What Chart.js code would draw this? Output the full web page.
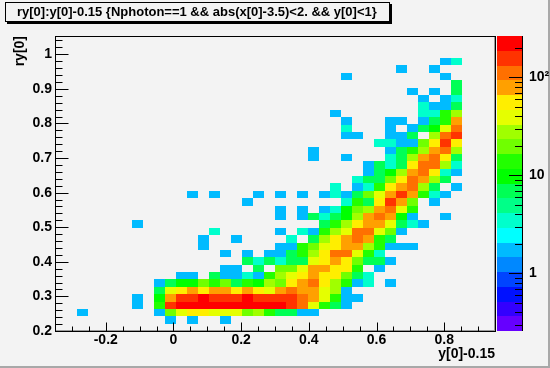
<!DOCTYPE html>
<html>
<head>
<meta charset="utf-8">
<title>ry[0]:y[0]-0.15</title>
<script src="https://cdn.jsdelivr.net/npm/chart.js@4/dist/chart.umd.js"></script>
<style>
    html, body {margin: 0; padding: 0; background: #f3f3f3;}
    canvas {display: block;}
</style>
</head>
<body>
<canvas id="plot" width="550" height="368"></canvas>
<script>
const titleText = 'ry[0]:y[0]-0.15 {Nphoton==1 && abs(x[0]-3.5)<2. && y[0]<1}';
const xTitle = 'y[0]-0.15';
const yTitle = 'ry[0]';

// binning of the histogram
const xRange = [-0.35, 0.95];
const yRange = [0.2, 1.053];
const zRange = [0.258, 265];
const nBinsX = 40;
const nBinsY = 40;

const xTicks = [-0.2, 0, 0.2, 0.4, 0.6, 0.8];
const yTicks = [0.2, 0.3, 0.4, 0.5, 0.6, 0.7, 0.8, 0.9, 1];
const zTicks = [1, 10, 100];
const zTickLabels = ['1', '10', '10²'];
const zMinorTicks = [0.3, 0.4, 0.5, 0.6, 0.7, 0.8, 0.9, 2, 3, 4, 5, 6, 7, 8, 9, 20, 30, 40, 50, 60, 70, 80, 90, 200];

// colour bar, bottom to top
const palette = [
    '#6600ff', '#3300ff', '#0011ff', '#0044ff', '#0088ff',
    '#00bbff', '#00ffff', '#00ffcc', '#00ff88', '#00ff55',
    '#00ff00', '#22ff00', '#70ff00', '#a0ff00', '#e5ff00',
    '#ffee00', '#ffa000', '#ff7000', '#ff3300', '#ff0000',
];

// bin contents: [column, value, column, value, ...], one list per row from the bottom
const row01 = [10, 1.7, 12, 1.7, 15, 1.7];
const row02 = [2, 1.7, 9, 1.7, 10, 20, 11, 39, 12, 55, 13, 55, 14, 39, 15, 39, 16, 39, 17, 20, 18, 28, 19, 14, 20, 7, 21, 7, 22, 1.7, 23, 1.7];
const row03 = [7, 1.7, 9, 14, 10, 157, 11, 222, 12, 222, 13, 222, 14, 222, 15, 222, 16, 222, 17, 222, 18, 222, 19, 222, 20, 222, 21, 157, 22, 111, 23, 39, 24, 14, 25, 7, 26, 1.7];
const row04 = [7, 1.7, 9, 10, 10, 78, 11, 157, 12, 157, 13, 222, 14, 157, 15, 157, 16, 157, 17, 222, 18, 157, 19, 157, 20, 157, 21, 157, 22, 111, 23, 78, 24, 39, 25, 14, 26, 1.7, 27, 1.7];
const row05 = [9, 7, 10, 39, 11, 55, 12, 78, 13, 55, 14, 78, 15, 78, 16, 55, 17, 78, 18, 55, 19, 39, 20, 78, 21, 111, 22, 78, 23, 78, 24, 39, 25, 28, 26, 1.7];
const row06 = [9, 1.7, 10, 7, 11, 10, 12, 10, 13, 20, 14, 14, 15, 20, 16, 7, 17, 14, 18, 10, 19, 28, 20, 20, 21, 55, 22, 78, 23, 111, 24, 55, 25, 28, 26, 14, 27, 1.7, 28, 3.5, 30, 1.7];
const row07 = [11, 1.7, 12, 1.7, 14, 7, 15, 1.7, 16, 1.7, 17, 3.5, 18, 1.7, 19, 14, 20, 28, 21, 39, 22, 55, 23, 78, 24, 55, 25, 55, 26, 20, 27, 7, 28, 3.5];
const row08 = [15, 1.7, 16, 1.7, 18, 7, 20, 20, 21, 20, 22, 39, 23, 78, 24, 78, 25, 55, 26, 55, 27, 14, 29, 1.7];
const row09 = [17, 7, 18, 3.5, 19, 7, 20, 3.5, 21, 7, 22, 7, 23, 39, 24, 55, 25, 78, 26, 55, 27, 20, 28, 7, 29, 7, 30, 1.7];
const row10 = [15, 1.7, 17, 1.7, 19, 1.7, 20, 1.7, 21, 7, 22, 14, 23, 28, 24, 55, 25, 111, 26, 111, 27, 39, 28, 14, 29, 3.5];
const row11 = [13, 1.7, 20, 1.7, 21, 1.7, 22, 14, 23, 20, 24, 39, 25, 55, 26, 78, 27, 78, 28, 28, 29, 14, 30, 1.7, 31, 1.7, 32, 1.7];
const row12 = [13, 1.7, 16, 1.7, 21, 3.5, 23, 7, 24, 28, 25, 55, 26, 78, 27, 111, 28, 78, 29, 14, 30, 7];
const row13 = [14, 3.5, 20, 1.7, 22, 3.5, 23, 1.7, 24, 14, 25, 28, 26, 39, 27, 111, 28, 111, 29, 39, 30, 20, 31, 1.7];
const row14 = [7, 1.7, 24, 7, 25, 14, 26, 28, 27, 55, 28, 78, 29, 78, 30, 39, 31, 7, 32, 3.5, 33, 1.7];
const row15 = [20, 1.7, 22, 1.7, 23, 7, 24, 3.5, 25, 7, 26, 10, 27, 28, 28, 78, 29, 111, 30, 78, 31, 10, 32, 1.7, 35, 1.7];
const row16 = [20, 1.7, 22, 1.7, 24, 1.7, 25, 3.5, 26, 10, 27, 20, 28, 28, 29, 78, 30, 111, 31, 39, 32, 14];
const row17 = [17, 1.7, 26, 3.5, 27, 14, 28, 7, 29, 55, 30, 157, 31, 78, 32, 20, 34, 1.7];
const row18 = [12, 1.7, 14, 1.7, 18, 1.7, 20, 1.7, 22, 1.7, 24, 1.7, 25, 3.5, 26, 1.7, 27, 7, 28, 20, 29, 39, 30, 78, 31, 157, 32, 78, 33, 14, 34, 3.5, 35, 1.7];
const row19 = [25, 3.5, 27, 1.7, 28, 3.5, 29, 14, 30, 55, 31, 78, 32, 111, 33, 28, 34, 7, 36, 1.7];
const row20 = [27, 3.5, 28, 7, 29, 7, 30, 20, 31, 55, 32, 111, 33, 78, 34, 28, 35, 7];
const row21 = [28, 1.7, 29, 7, 30, 10, 31, 28, 32, 78, 33, 111, 34, 55, 35, 3.5, 36, 1.7];
const row22 = [28, 1.7, 29, 7, 30, 3.5, 31, 7, 32, 55, 33, 111, 34, 111, 35, 28, 36, 3.5];
const row23 = [23, 1.7, 26, 1.7, 30, 3.5, 31, 7, 32, 28, 33, 78, 34, 111, 35, 55, 36, 7];
const row24 = [23, 1.7, 30, 1.7, 31, 7, 32, 14, 33, 28, 34, 78, 35, 111, 36, 28];
const row25 = [29, 3.5, 30, 3.5, 31, 1.7, 32, 1.7, 33, 20, 34, 55, 35, 157, 36, 55];
const row26 = [26, 1.7, 27, 1.7, 30, 1.7, 31, 1.7, 32, 7, 34, 28, 35, 111, 36, 157];
const row27 = [26, 3.5, 30, 1.7, 32, 1.7, 33, 7, 34, 10, 35, 39, 36, 111];
const row28 = [26, 1.7, 30, 1.7, 31, 1.7, 33, 1.7, 34, 7, 35, 14, 36, 78];
const row29 = [25, 1.7, 33, 3.5, 34, 3.5, 35, 14, 36, 28];
const row30 = [33, 3.5, 34, 1.7, 35, 1.7, 36, 7];
const row31 = [33, 1.7, 35, 1.7, 36, 3.5];
const row32 = [32, 1.7, 34, 1.7, 36, 7];
const row33 = [36, 7];
const row34 = [26, 1.7, 35, 1.7];
const row35 = [31, 1.7, 34, 1.7];
const row36 = [35, 1.7, 36, 3.5];

const rows = {
    1: row01, 2: row02, 3: row03, 4: row04, 5: row05, 6: row06, 7: row07, 8: row08, 9: row09,
    10: row10, 11: row11, 12: row12, 13: row13, 14: row14, 15: row15, 16: row16, 17: row17, 18: row18,
    19: row19, 20: row20, 21: row21, 22: row22, 23: row23, 24: row24, 25: row25, 26: row26, 27: row27,
    28: row28, 29: row29, 30: row30, 31: row31, 32: row32, 33: row33, 34: row34, 35: row35, 36: row36,
};

const binW = (xRange[1] - xRange[0]) / nBinsX;
const binH = (yRange[1] - yRange[0]) / nBinsY;
const FONT = {family: '"Liberation Sans", Arial, sans-serif', size: 14, weight: 'bold'};

function buildCells() {
    const cells = [];
    Object.entries(rows).forEach(([row, list]) => {
        for (let k = 0; k < list.length; k += 2) {
            cells.push({
                x: xRange[0] + list[k] * binW,
                y: yRange[0] + Number(row) * binH,
                v: list[k + 1],
            });
        }
    });
    return cells;
}

function colourFor(v) {
    const t = Math.log(v / zRange[0]) / Math.log(zRange[1] / zRange[0]);
    const k = Math.min(palette.length - 1, Math.max(0, Math.floor(t * palette.length)));
    return palette[k];
}

function tickLine(ctx, x0, y0, x1, y1) {
    ctx.beginPath();
    ctx.moveTo(x0, y0);
    ctx.lineTo(x1, y1);
    ctx.stroke();
}

// fix the scale sizes, no room for labels that stick out
function fixSize(s, width, height) {
    if (width) s.width = width;
    if (height) s.height = height;
    s.paddingTop = s.paddingBottom = s.paddingLeft = s.paddingRight = 0;
}

// ─── plugins ────────────────────────────────────────────────────────────

const histPlugin = {
    id: 'hist',
    beforeDatasetsDraw(chart) {
        const {ctx} = chart;
        const {x, y} = chart.scales;
        ctx.save();
        chart.data.datasets[0].data.forEach(c => {
            const x0 = Math.round(x.getPixelForValue(c.x));
            const x1 = Math.round(x.getPixelForValue(c.x + binW));
            const y0 = Math.round(y.getPixelForValue(c.y));
            const y1 = Math.round(y.getPixelForValue(c.y + binH));
            ctx.fillStyle = colourFor(c.v);
            ctx.fillRect(x0, y1, x1 - x0, y0 - y1);
        });
        ctx.restore();
    },
};

const boxPlugin = {
    id: 'titleBox',
    afterLayout(chart) {
        chart.titleBlock.left = 17;
    },
    beforeDraw(chart) {
        const {ctx} = chart;
        ctx.save();
        // window edge
        ctx.fillStyle = '#a8a8a8';
        ctx.fillRect(548, 0, 2, 368);
        ctx.fillRect(0, 366, 550, 2);
        // title box with its shadow
        ctx.fillStyle = '#000';
        ctx.fillRect(7, 4, 385, 20);
        ctx.fillStyle = '#f3f3f3';
        ctx.fillRect(5, 2, 385, 20);
        ctx.strokeStyle = '#000';
        ctx.strokeRect(5.5, 2.5, 384, 19);
        ctx.restore();
    },
};

const framePlugin = {
    id: 'frame',
    afterDraw(chart) {
        const {ctx, chartArea: a} = chart;
        const {x, y, z} = chart.scales;
        const L = Math.round(a.left) + 0.5, R = Math.round(a.right) + 0.5;
        const T = Math.round(a.top) + 0.5, B = Math.round(a.bottom) + 0.5;
        ctx.save();

        // colour bar
        const zL = 497, zR = 522;
        const step = Math.log(zRange[1] / zRange[0]) / palette.length;
        palette.forEach((c, k) => {
            const y0 = Math.round(z.getPixelForValue(zRange[0] * Math.exp(k * step)));
            const y1 = Math.round(z.getPixelForValue(zRange[0] * Math.exp((k + 1) * step)));
            ctx.fillStyle = c;
            ctx.fillRect(zL, y1, zR - zL, y0 - y1);
        });

        // frame, the right and bottom sides have a grey shade inside
        ctx.lineWidth = 1;
        ctx.strokeStyle = '#9a9a9a';
        tickLine(ctx, R - 1, T, R - 1, B);
        tickLine(ctx, L, B - 1, R, B - 1);
        ctx.strokeStyle = '#000';
        ctx.strokeRect(L, T, R - L, B - T);

        // inside ticks
        for (let v = -0.35; v < 0.95; v += 0.05) {
            const px = Math.round(x.getPixelForValue(v)) + 0.5;
            const major = xTicks.some(t => Math.abs(t - v) < 1e-6);
            tickLine(ctx, px, B, px, B - (major ? 9 : 5));
        }
        for (let v = 0.2; v < 1.05; v += 0.02) {
            const py = Math.round(y.getPixelForValue(v)) + 0.5;
            const major = yTicks.some(t => Math.abs(t - v) < 1e-6);
            tickLine(ctx, L, py, L + (major ? 13 : 7), py);
        }

        // colour bar axis
        tickLine(ctx, zR + 0.5, z.top, zR + 0.5, z.bottom);
        zTicks.forEach(v => {
            const py = Math.round(z.getPixelForValue(v)) + 0.5;
            tickLine(ctx, zR, py, zR - 13, py);
        });
        zMinorTicks.forEach(v => {
            const py = Math.round(z.getPixelForValue(v)) + 0.5;
            tickLine(ctx, zR, py, zR - 7, py);
        });
        ctx.restore();
    },
};

// ─── chart ──────────────────────────────────────────────────────────────

new Chart(document.getElementById('plot'), {
    type: 'scatter',
    data: {
        datasets: [{
            label: yTitle,
            data: buildCells(),
            pointRadius: 0,
            pointHoverRadius: 0,
        }],
    },
    options: {
        responsive: false,
        animation: false,
        events: [],
        layout: {padding: {bottom: 5}},
        plugins: {
            legend: {display: false},
            tooltip: {enabled: false},
            title: {
                display: true,
                text: titleText,
                align: 'start',
                color: '#000',
                font: {...FONT, size: 13},
                padding: {top: 5, bottom: 15.4},
            },
        },
        scales: {
            x: {
                type: 'linear',
                min: xRange[0],
                max: xRange[1],
                afterBuildTicks: s => { s.ticks = xTicks.map(value => ({value})); },
                afterFit: s => fixSize(s, 0, 32),
                grid: {display: false, drawTicks: false},
                border: {display: false},
                ticks: {color: '#000', font: FONT, maxRotation: 0, padding: 1, callback: v => String(v)},
                title: {display: true, text: xTitle, align: 'end', color: '#000', font: FONT, padding: 0},
            },
            y: {
                type: 'linear',
                min: yRange[0],
                max: yRange[1],
                afterBuildTicks: s => { s.ticks = yTicks.map(value => ({value})); },
                afterFit: s => fixSize(s, 55, 0),
                grid: {display: false, drawTicks: false},
                border: {display: false},
                ticks: {color: '#000', font: FONT, padding: 3, callback: v => String(v)},
                title: {display: true, text: yTitle, align: 'end', color: '#000', font: FONT, padding: {top: 12, bottom: 0}},
            },
            z: {
                type: 'logarithmic',
                position: 'right',
                min: zRange[0],
                max: zRange[1],
                afterBuildTicks: s => { s.ticks = zTicks.map(value => ({value})); },
                afterFit: s => fixSize(s, 55, 0),
                grid: {display: false, drawTicks: false},
                border: {display: false},
                ticks: {
                    color: '#000',
                    font: FONT,
                    padding: 34,
                    callback: v => zTickLabels[zTicks.indexOf(v)],
                },
            },
        },
    },
    plugins: [boxPlugin, histPlugin, framePlugin],
});
</script>
</body>
</html>
